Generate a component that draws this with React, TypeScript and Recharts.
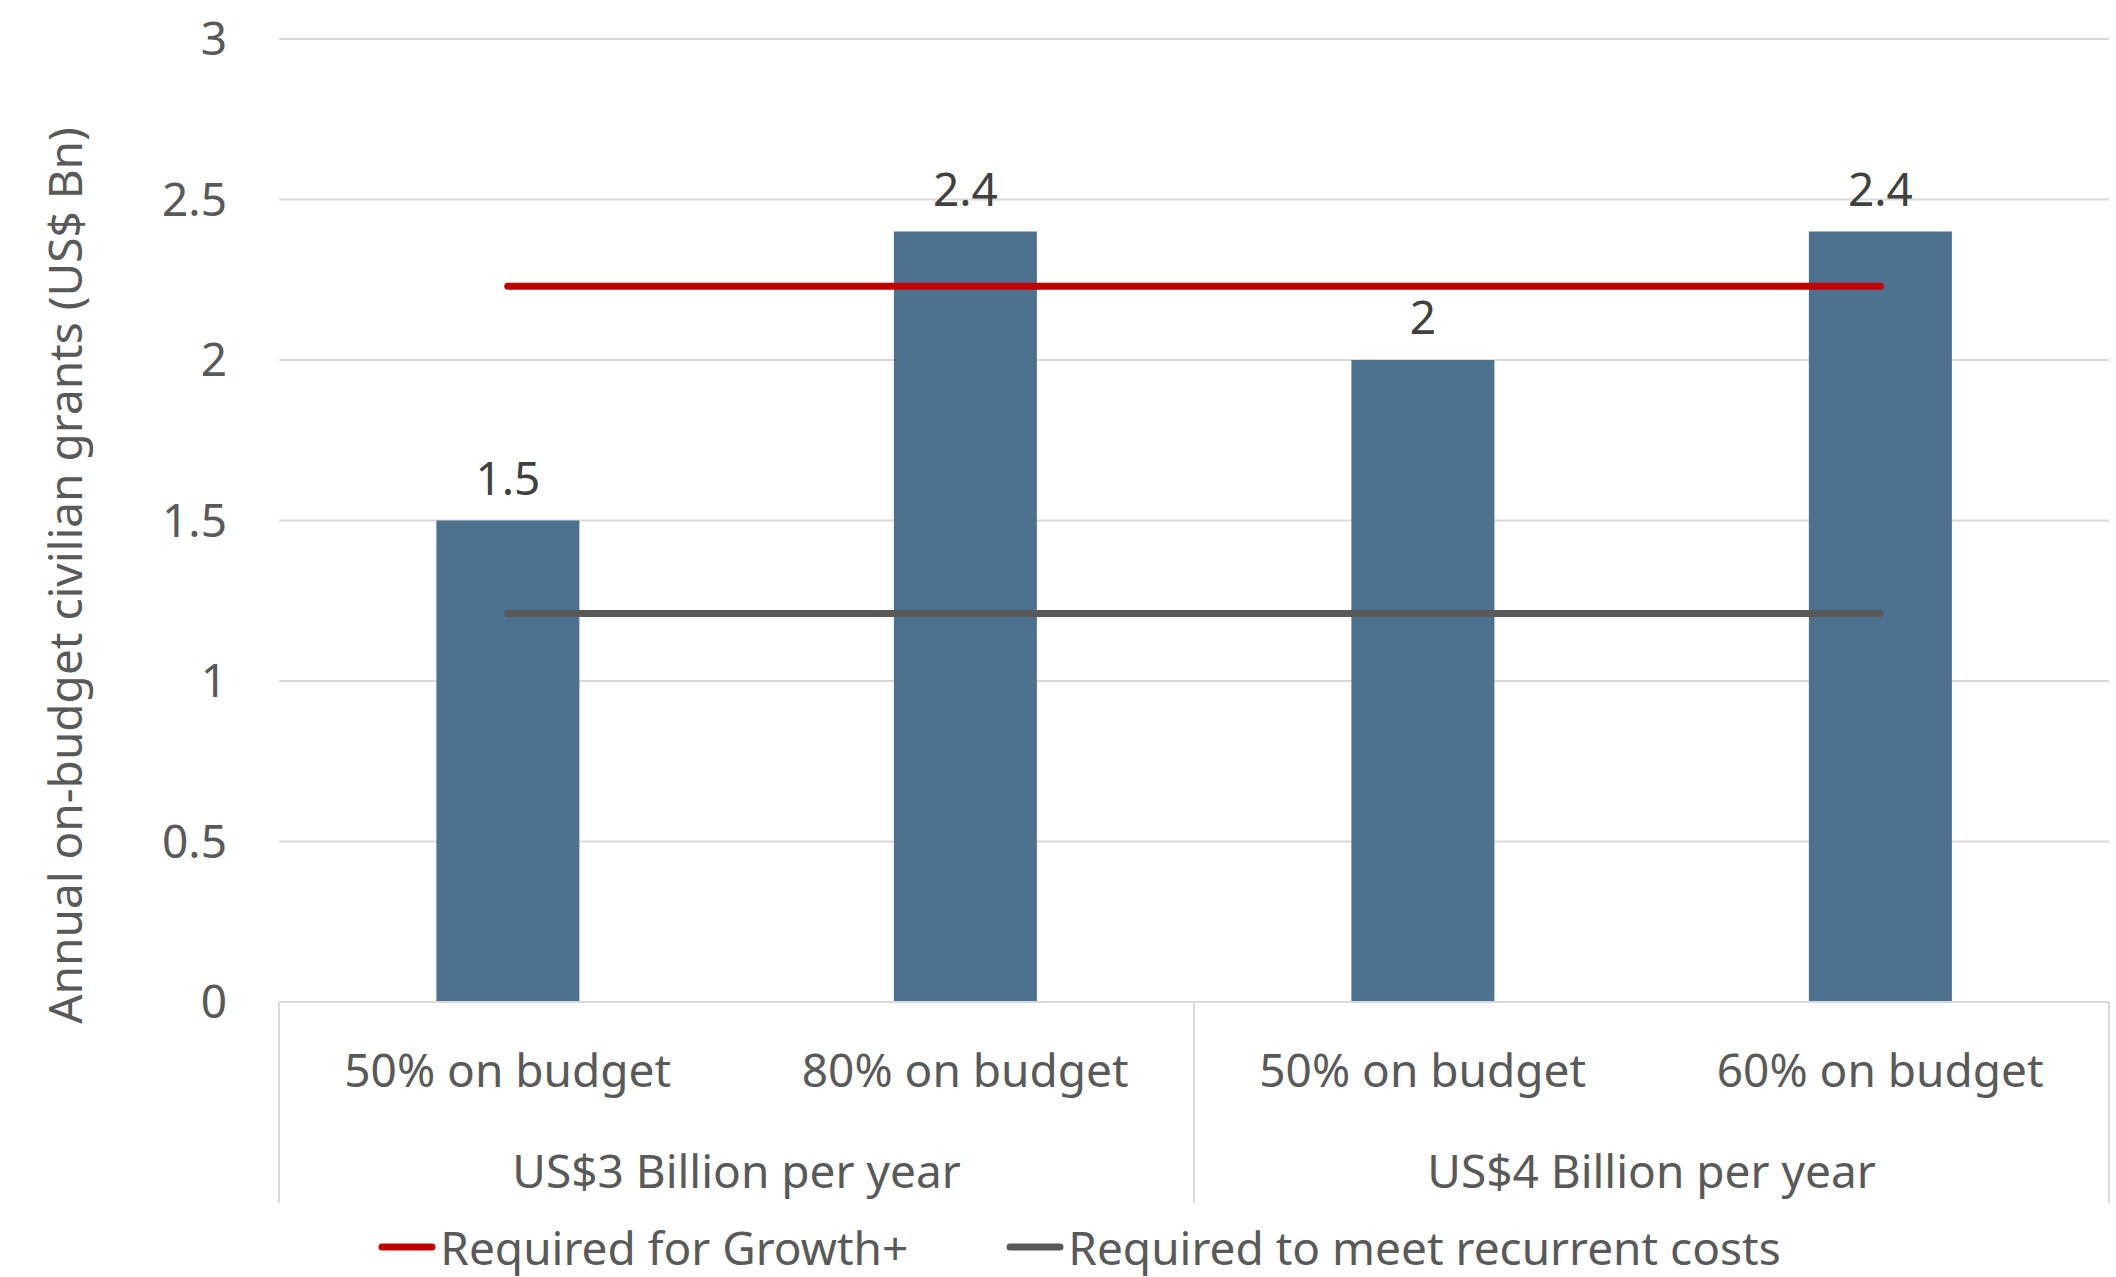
import React from 'react';
import {
  ComposedChart,
  Bar,
  Line,
  XAxis,
  YAxis,
  CartesianGrid,
  LabelList,
  Legend,
} from 'recharts';

const categories = ['50% on budget', '80% on budget', '50% on budget', '60% on budget'];
const groups = ['US$3 Billion per year', 'US$4 Billion per year'];
const grants = [1.5, 2.4, 2, 2.4];
const growthRequired = [2.23, 2.23, 2.23, 2.23];
const recurrentRequired = [1.21, 1.21, 1.21, 1.21];
const yTicks = [0, 0.5, 1, 1.5, 2, 2.5, 3];

const FONT = '"Noto Sans", sans-serif';
const TEXT = '#595959';

const data = categories.map((name, i) => ({
  name,
  group: groups[Math.floor(i / 2)],
  grants: grants[i],
  growth: growthRequired[i],
  recurrent: recurrentRequired[i],
}));

// category label + group label + Excel style separators
const CategoryTick = (props: any) => {
  const { x, y, payload, index } = props;
  const half = payload && payload.offset ? payload.offset : 228.75;
  return (
    <g>
      <text x={x} y={y + 85} textAnchor="middle" fill={TEXT} fontSize={46} fontFamily={FONT}>
        {categories[index]}
      </text>
      {index % 2 === 0 && (
        <text x={x + half} y={y + 186} textAnchor="middle" fill={TEXT} fontSize={46} fontFamily={FONT}>
          {groups[index / 2]}
        </text>
      )}
      {index === 0 && <line x1={x - half} x2={x - half} y1={y} y2={y + 201} stroke="#d9d9d9" strokeWidth={2} />}
      {index % 2 === 1 && <line x1={x + half} x2={x + half} y1={y} y2={y + 201} stroke="#d9d9d9" strokeWidth={2} />}
    </g>
  );
};

const YTitle = (props: any) => {
  const { viewBox } = props;
  const cx = viewBox.x + 82;
  const cy = viewBox.y + viewBox.height / 2 + 55;
  return (
    <text
      x={cx}
      y={cy}
      transform={`rotate(-90, ${cx}, ${cy})`}
      textAnchor="middle"
      fill={TEXT}
      fontSize={46}
      fontFamily={FONT}
    >
      Annual on-budget civilian grants (US$ Bn)
    </text>
  );
};

const LegendContent = (props: any) => {
  const items = (props.payload || []).filter((p: any) => p.type !== 'none');
  return (
    <div
      style={{
        display: 'flex',
        justifyContent: 'center',
        alignItems: 'center',
        gap: 98,
        height: 75,
        paddingTop: 14,
        paddingLeft: 50,
        boxSizing: 'border-box',
        fontFamily: FONT,
        fontSize: 46,
        color: TEXT,
      }}
    >
      {items.map((item: any) => (
        <div key={item.value} style={{ display: 'flex', alignItems: 'center' }}>
          <svg width={58} height={10} style={{ marginRight: 4 }}>
            <line x1={4} x2={54} y1={5} y2={5} stroke={item.color} strokeWidth={7} strokeLinecap="round" />
          </svg>
          <span>{item.value}</span>
        </div>
      ))}
    </div>
  );
};

export default function App() {
  return (
    <div style={{ position: 'absolute', left: 0, top: 0, background: '#fff' }}>
      <ComposedChart
        width={2116}
        height={1277}
        data={data}
        margin={{ top: 39, right: 7, left: 0, bottom: 0 }}
        barCategoryGap="34.4%"
      >
        <CartesianGrid vertical={false} stroke="#d9d9d9" strokeWidth={2} />
        <XAxis
          dataKey="name"
          height={200}
          tickLine={false}
          tickSize={0}
          tickMargin={0}
          axisLine={{ stroke: '#d9d9d9', strokeWidth: 2 }}
          tick={<CategoryTick />}
          interval={0}
        />
        <YAxis
          width={279}
          domain={[0, 3]}
          ticks={yTicks}
          tickLine={false}
          axisLine={false}
          tickSize={0}
          tickMargin={52}
          tick={{ fill: TEXT, fontSize: 46, fontFamily: FONT }}
          label={<YTitle />}
        />
        <Bar dataKey="grants" fill="#4F7190" legendType="none" isAnimationActive={false}>
          <LabelList dataKey="grants" position="top" offset={26} fill="#404040" fontSize={46} fontFamily={FONT} />
        </Bar>
        <Line
          dataKey="growth"
          name="Required for Growth+"
          stroke="#C00000"
          strokeWidth={7}
          strokeLinecap="round"
          dot={false}
          activeDot={false}
          type="linear"
          isAnimationActive={false}
        />
        <Line
          dataKey="recurrent"
          name="Required to meet recurrent costs"
          stroke="#595959"
          strokeWidth={7}
          strokeLinecap="round"
          dot={false}
          activeDot={false}
          type="linear"
          isAnimationActive={false}
        />
        <Legend verticalAlign="bottom" content={<LegendContent />} />
      </ComposedChart>
    </div>
  );
}
